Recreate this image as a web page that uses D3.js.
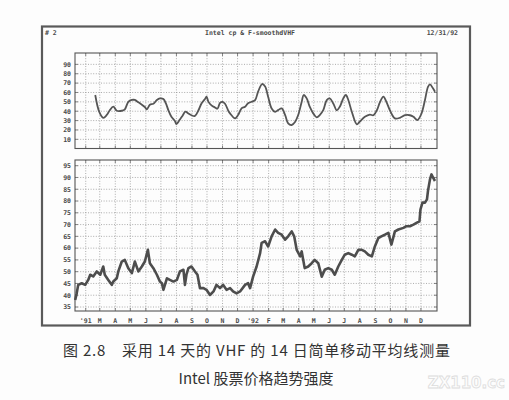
<!DOCTYPE html>
<html><head><meta charset="utf-8">
<script src="https://cdn.jsdelivr.net/npm/d3@7"></script>
<style>body{margin:0;background:#fff}svg{display:block}</style>
</head><body><svg id="c" width="509" height="400"></svg>
<script>
// ---- data ----
const monthLabels = ["'91","M","A","M","J","J","A","S","O","N","D","'92","F","M","A","M","J","J","A","S","O","N","D"];
const vhfTicks = [10,20,30,40,50,60,70,80,90];
const priceTicks = [35,40,45,50,55,60,65,70,75,80,85,90,95];
// day offsets from 1991-01-01
const vhfDay = [50,58,66,73,79,86,93,103,109,116,123,129,136,143,149,153,159,166,173,179,186,191,196,202,209,212,218,224,230,236,242,249,256,262,269,272,276,282,289,294,299,304,309,316,319,329,335,342,349,355,362,369,375,383,389,395,402,409,415,422,429,435,442,449,455,462,466,472,478,485,492,498,505,512,518,525,532,538,545,550,555,562,572,578,588,598,605,612,618,625,631,638,648,658,668,678,685,693,701,708,714,718,724,728];
const vhfVal = [57.3,39.4,33,36,41,44.8,40.5,40.5,42,50,52,52,49.5,47,44.5,42,47,48,52,53.7,53,48.3,41,34,29.5,26.3,30.5,35,39.5,37.5,35.7,35,41,48.3,53,55.5,50,46.3,44,42.7,49,50,48,40,37.7,32.4,35.9,43,44.8,48.4,50.1,51.9,60.8,69,66.5,55.4,43,39.4,41.2,43,35.9,27,25.3,28.8,35.9,50.1,57.3,53.7,44.8,37.7,33.5,35.9,41.2,51.9,53.7,48.3,41,44.8,53.7,57.3,52,39.4,26,29,34,36.4,35.7,41,49.4,55.5,50,41,32.4,33,35.7,35.7,34,30.6,37.5,52,66,68.7,64.4,60.8];
const priceDay = [10,13,16,23,30,36,40,46,53,60,66,69,76,83,86,93,96,103,109,116,123,129,136,143,149,155,159,166,173,179,183,186,193,199,206,213,219,226,229,232,236,242,249,254,259,266,272,279,286,292,299,305,312,319,325,332,339,349,355,359,365,372,379,382,389,395,402,409,415,422,429,435,442,447,452,459,462,468,475,482,488,495,502,508,515,522,528,535,542,548,555,562,568,575,582,588,595,602,608,615,621,628,635,641,648,655,665,671,678,685,691,697,699,703,708,712,714,718,721,724,728];
const priceVal = [38,40.8,44.4,45.1,44.4,46.5,48.7,48,50.1,48.7,52.2,48.7,46.5,44.4,45.8,47.2,50.1,54.3,55,51.5,49.4,54.3,50.1,52.2,54.3,59.3,53.6,51.5,48.7,45.8,45.1,42.3,47.2,46.5,45.8,46.5,50.1,50.8,44.4,48.7,51.5,52.2,50.1,48.7,43,43,42.3,40.1,41.6,44.4,43,44.4,42.3,43,41.6,40.8,41.6,44.4,45.1,43,47.9,52.2,57.9,62.2,62.9,60.7,65,67.9,66.5,65.7,63.6,65,67.1,65,59.3,56.5,58.6,51.5,52.2,53.6,55,53.6,47.9,50.8,51.5,50.8,48.7,52.2,55,57.2,57.9,57.2,56.5,59.3,59.3,58.6,57.2,56.5,60.7,64.3,65,65.7,66.5,61.5,67.1,67.9,68.6,69.3,69.3,70,70.7,71.4,76.4,79.3,79.3,80.7,84.3,89.2,91.3,90,88.5];

// ---- layout ----
const svg = d3.select("#c");
const L = 75, R = 437;
const ink = "#4a4a4a";
const font = "'DejaVu Sans Mono', monospace";
const base = Date.UTC(1991,0,1);
const toDay = d => (d - base) / 864e5;
const x = d3.scaleLinear().domain([9.6, 732]).range([L, R]);
const monthDays = d3.utcMonth.range(new Date(Date.UTC(1991,1,1)), new Date(Date.UTC(1993,0,1))).map(toDay);

svg.append("rect").attr("width",509).attr("height",400).attr("fill","#fdfdfd");

// outer frame
svg.append("rect").attr("x",42).attr("y",26.5).attr("width",428).attr("height",299)
  .attr("fill","none").attr("stroke","#5a5a5a").attr("stroke-width",2.2);

// header
const hdr = svg.append("g").attr("font-family",font).attr("font-size",6.5).attr("fill",ink).attr("font-weight","bold");
hdr.append("text").attr("x",45).attr("y",35).text("# 2");
hdr.append("text").attr("x",250).attr("y",35).attr("text-anchor","middle").text("Intel cp & F-smoothdVHF");
hdr.append("text").attr("x",458).attr("y",35).attr("text-anchor","end").text("12/31/92");

function panel(yScale, ticks, top, bottom) {
  const g = svg.append("g");
  g.selectAll("line.h").data(ticks).join("line")
    .attr("x1",L).attr("x2",R).attr("y1",d=>yScale(d)).attr("y2",d=>yScale(d))
    .attr("stroke","#8a8a8a").attr("stroke-width",0.7).attr("stroke-dasharray","1,1.6");
  g.selectAll("line.v").data(monthDays).join("line")
    .attr("x1",d=>x(d)).attr("x2",d=>x(d)).attr("y1",top).attr("y2",bottom)
    .attr("stroke","#8a8a8a").attr("stroke-width",0.7).attr("stroke-dasharray","1,1.6");
  g.selectAll("line.vt").data(monthDays).join("line")
    .attr("x1",d=>x(d)).attr("x2",d=>x(d)).attr("y1",bottom-3).attr("y2",bottom)
    .attr("stroke","#666").attr("stroke-width",0.8);
  g.selectAll("line.vt2").data(monthDays).join("line")
    .attr("x1",d=>x(d)).attr("x2",d=>x(d)).attr("y1",top).attr("y2",top+3)
    .attr("stroke","#666").attr("stroke-width",0.8);
  g.selectAll("line.ht").data(ticks).join("line")
    .attr("x1",L).attr("x2",L+3).attr("y1",d=>yScale(d)).attr("y2",d=>yScale(d))
    .attr("stroke","#666").attr("stroke-width",0.8);
  g.selectAll("line.ht2").data(ticks).join("line")
    .attr("x1",R-3).attr("x2",R).attr("y1",d=>yScale(d)).attr("y2",d=>yScale(d))
    .attr("stroke","#666").attr("stroke-width",0.8);
  g.append("rect").attr("x",L).attr("y",top).attr("width",R-L).attr("height",bottom-top)
    .attr("fill","none").attr("stroke","#555").attr("stroke-width",1.1);
  g.selectAll("text.y").data(ticks).join("text")
    .attr("x",L-4).attr("y",d=>yScale(d)+2.3).attr("text-anchor","end")
    .attr("font-family",font).attr("font-size",6.5).attr("font-weight","bold").attr("fill",ink)
    .text(d=>d);
  return g;
}

// top panel: VHF
const yTop = d3.scaleLinear().domain([0,100]).range([148.7,55]);
panel(yTop, vhfTicks, 53, 148.5);
const vhfPts = vhfDay.map((d,i)=>[d, vhfVal[i]]);
svg.append("path").datum(vhfPts)
  .attr("d", d3.line().x(d=>x(d[0])).y(d=>yTop(d[1])).curve(d3.curveCatmullRom))
  .attr("fill","none").attr("stroke","#555").attr("stroke-width",1.8).attr("stroke-linejoin","round");

// bottom panel: price
const yBot = d3.scaleLinear().domain([35,95]).range([307,165.7]);
panel(yBot, priceTicks, 160, 311);
const pricePts = priceDay.map((d,i)=>[d, priceVal[i]]);
svg.append("path").datum(pricePts)
  .attr("d", d3.line().x(d=>x(d[0])).y(d=>yBot(d[1])))
  .attr("fill","none").attr("stroke","#4d4d4d").attr("stroke-width",2.6).attr("stroke-linejoin","round");

// x labels
svg.append("g").selectAll("text").data(monthDays).join("text")
  .attr("x",d=>x(d)).attr("y",322.5).attr("text-anchor","middle")
  .attr("font-family",font).attr("font-size",6.5).attr("font-weight","bold").attr("fill",ink)
  .text((d,i)=>monthLabels[i]);

// caption
const cap = svg.append("g").attr("font-family","'Noto Sans CJK SC','Noto Sans',sans-serif").attr("fill","#333");
cap.append("text").attr("x",63).attr("y",356).attr("font-size",15)
  .attr("textLength",387).attr("lengthAdjust","spacing")
  .text("图 2.8　采用 14 天的 VHF 的 14 日简单移动平均线测量");
cap.append("text").attr("x",256).attr("y",384).attr("font-size",15).attr("text-anchor","middle")
  .text("Intel 股票价格趋势强度");
// watermark
svg.append("text").attr("x",505).attr("y",388).attr("text-anchor","end")
  .attr("font-family","'DejaVu Sans',sans-serif").attr("font-size",15).attr("font-weight","bold")
  .attr("fill","none").attr("stroke","#dcdcdc").attr("stroke-width",0.8).text("ZX110.cc");
</script></body></html>
